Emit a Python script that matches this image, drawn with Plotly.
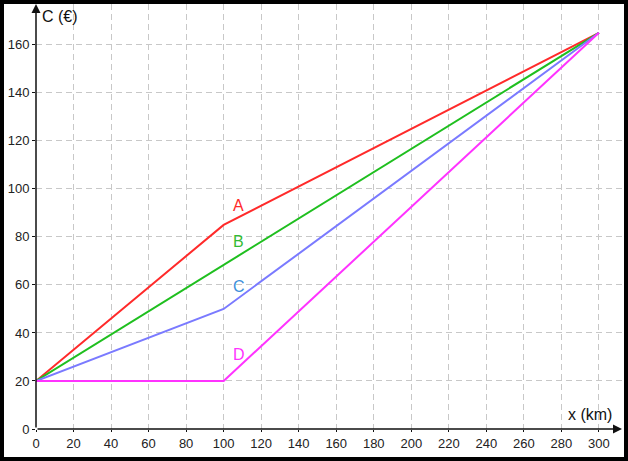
import plotly.graph_objects as go

# Data
x_pts = [0, 100, 300]
series = {
    "A": [20, 85, 165],
    "B": [20, 68.33, 165],
    "C": [20, 50, 165],
    "D": [20, 20, 165],
}
line_colors = {"A": "#ff2a2a", "B": "#1fbf1f", "C": "#7a7aff", "D": "#ff33ff"}
label_colors = {"A": "#ff2a2a", "B": "#33bb33", "C": "#3d8fdb", "D": "#ff33ff"}
label_pos = {"A": (108, 93), "B": (108, 78), "C": (108, 59.5), "D": (108, 31)}

x_ticks = list(range(0, 301, 20))
y_ticks = list(range(0, 161, 20))

W, H = 628, 461
L, R, T, B = 36, 6, 4, 32
X_MAX, Y_MAX = 312.3, 177
pw, ph = W - L - R, H - T - B

fig = go.Figure()
for name, ys in series.items():
    fig.add_trace(go.Scatter(x=x_pts, y=ys, mode="lines",
                             line=dict(color=line_colors[name], width=2),
                             showlegend=False, hoverinfo="skip"))

font = dict(family="Liberation Sans, Arial, sans-serif", size=13, color="#222")

for name, (lx, ly) in label_pos.items():
    fig.add_annotation(x=lx, y=ly, text=name, showarrow=False,
                       font=dict(family="Liberation Sans, Arial", size=16, color=label_colors[name]))

# axis arrows
fig.add_annotation(x=X_MAX, y=0, ax=0, ay=0, axref="x", ayref="y", xref="x", yref="y",
                   showarrow=True, arrowhead=2, arrowsize=1.2, arrowwidth=1.5, arrowcolor="#111", text="")
fig.add_annotation(x=0, y=Y_MAX, ax=0, ay=0, axref="x", ayref="y", xref="x", yref="y",
                   showarrow=True, arrowhead=2, arrowsize=1.2, arrowwidth=1.5, arrowcolor="#111", text="")

# axis titles
fig.add_annotation(x=2, y=Y_MAX - 5, text="C (€)", showarrow=False, xanchor="left", yanchor="middle",
                   font=dict(family="Liberation Sans, Arial", size=16, color="#111"))
fig.add_annotation(x=308, y=6, text="x (km)", showarrow=False, xanchor="right", yanchor="middle",
                   font=dict(family="Liberation Sans, Arial", size=16, color="#111"))

# black frame
def px2x(px):
    return (px - L) / pw
def py2y(py):
    return (H - B - py) / ph
fig.add_shape(type="rect", xref="paper", yref="paper",
              x0=px2x(2), x1=px2x(W - 2), y0=py2y(H - 2), y1=py2y(2),
              line=dict(color="black", width=4))

fig.update_xaxes(range=[0, X_MAX], tickvals=x_ticks, showgrid=True, gridcolor="#c8c8c8",
                 griddash="6px,4px", gridwidth=1, zeroline=False, showline=False,
                 ticks="outside", ticklen=2, tickcolor="#111", tickfont=font)
fig.update_yaxes(range=[0, Y_MAX], tickvals=y_ticks, showgrid=True, gridcolor="#c8c8c8",
                 griddash="6px,4px", gridwidth=1, zeroline=False, showline=False,
                 ticks="outside", ticklen=3, tickcolor="#111", tickfont=font)

fig.update_layout(width=W, height=H, margin=dict(l=L, r=R, t=T, b=B),
                  paper_bgcolor="white", plot_bgcolor="white")

fig.write_html("out.html", config={"displayModeBar": False},
               post_script="document.body.style.margin='0';document.body.style.overflow='hidden';")
